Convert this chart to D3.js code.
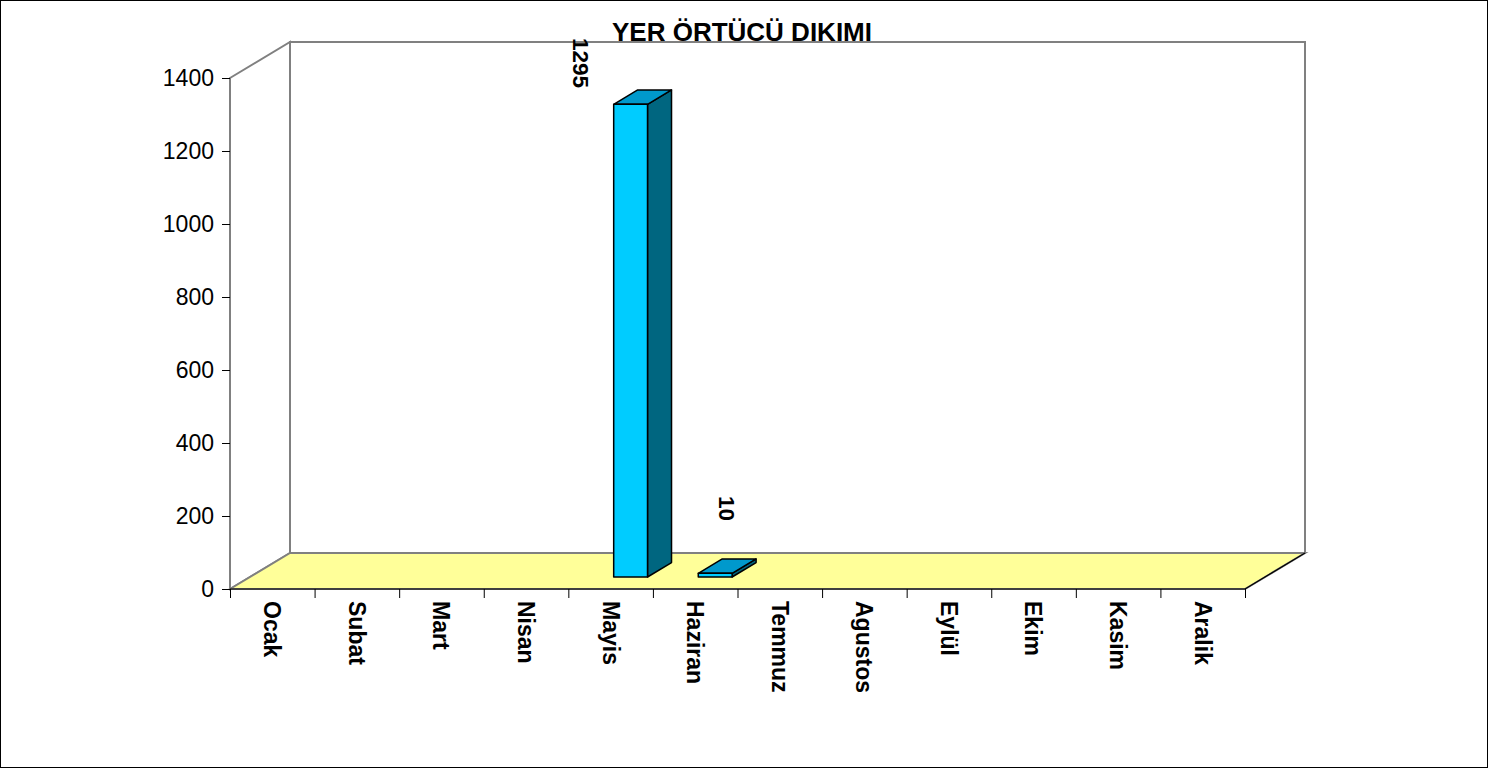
<!DOCTYPE html>
<html lang="tr">
<head>
<meta charset="utf-8">
<title>YER ÖRTÜCÜ DIKIMI</title>
<script src="https://d3js.org/d3.v7.min.js"></script>
<style>
  body { margin: 0; background: #fff; }
  svg { display: block; font-family: Arial, "Liberation Sans", sans-serif; }
</style>
</head>
<body>
<script>
// chart data
var months = ["Ocak", "Subat", "Mart", "Nisan", "Mayis", "Haziran", "Temmuz",
              "Agustos", "Eylül", "Ekim", "Kasim", "Aralik"];
var values = [0, 0, 0, 0, 1295, 10, 0, 0, 0, 0, 0, 0];
var yTicks = [0, 200, 400, 600, 800, 1000, 1200, 1400];
var title = "YER ÖRTÜCÜ DIKIMI";

var w = 1488, h = 768;
var pLeft = 230, pRight = 1245, pBottom = 589, pTop = 78;
// 3d depth of the floor / walls
var DX = 60, DY = -36;
// bars sit between these fractions of the depth
var f0 = 0.333, f1 = 0.733;
var gray = "#808080";

var svg = d3.select("body").append("svg").attr("width", w).attr("height", h);

svg.append("rect").attr("x", 0.5).attr("y", 0.5)
  .attr("width", w - 1).attr("height", h - 1)
  .attr("fill", "#fff").attr("stroke", "#000");

var xScale = d3.scaleBand().domain(months).range([pLeft, pRight])
  .paddingInner(0.6).paddingOuter(0.3);
var xEdge = d3.scaleLinear().domain([0, months.length]).range([pLeft, pRight]);
var yScale = d3.scaleLinear().domain([0, 1400]).range([pBottom, pTop]);

// walls
svg.append("rect")
  .attr("x", pLeft + DX).attr("y", pTop + DY)
  .attr("width", pRight - pLeft).attr("height", pBottom - pTop)
  .attr("fill", "#fff").attr("stroke", gray).attr("stroke-width", 2);

svg.append("polygon")
  .attr("points", [[pLeft, pTop], [pLeft + DX, pTop + DY], [pLeft + DX, pBottom + DY], [pLeft, pBottom]].join(" "))
  .attr("fill", "#fff").attr("stroke", gray).attr("stroke-width", 2);

// floor
svg.append("polygon")
  .attr("points", [[pLeft, pBottom], [pLeft + DX, pBottom + DY], [pRight + DX, pBottom + DY], [pRight, pBottom]].join(" "))
  .attr("fill", "#ffff99").attr("stroke", gray).attr("stroke-width", 2);
svg.append("line")
  .attr("x1", pRight).attr("y1", pBottom).attr("x2", pRight + DX).attr("y2", pBottom + DY)
  .attr("stroke", "#000").attr("stroke-width", 1.2);

// bars
var bars = svg.append("g").selectAll("g").data(months).enter().append("g")
  .filter(function(d, i) { return values[i] > 0; });

function barPts(d) {
  var v = values[months.indexOf(d)];
  var x0 = xScale(d) + DX * f0, bw = xScale.bandwidth();
  var yb = yScale(0) + DY * f0, yt = yScale(v) + DY * f0;
  var ddx = DX * (f1 - f0), ddy = DY * (f1 - f0);
  return { x0: x0, x1: x0 + bw, yb: yb, yt: yt, ddx: ddx, ddy: ddy };
}

bars.append("polygon") // side
  .attr("points", function(d) {
    var p = barPts(d);
    return [[p.x1, p.yb], [p.x1 + p.ddx, p.yb + p.ddy], [p.x1 + p.ddx, p.yt + p.ddy], [p.x1, p.yt]].join(" ");
  })
  .attr("fill", "#006680").attr("stroke", "#000").attr("stroke-width", 1.5).attr("stroke-linejoin", "round");

bars.append("polygon") // top
  .attr("points", function(d) {
    var p = barPts(d);
    return [[p.x0, p.yt], [p.x0 + p.ddx, p.yt + p.ddy], [p.x1 + p.ddx, p.yt + p.ddy], [p.x1, p.yt]].join(" ");
  })
  .attr("fill", "#0099cc").attr("stroke", "#000").attr("stroke-width", 1.5).attr("stroke-linejoin", "round");

bars.append("polygon") // front
  .attr("points", function(d) {
    var p = barPts(d);
    return [[p.x0, p.yb], [p.x0, p.yt], [p.x1, p.yt], [p.x1, p.yb]].join(" ");
  })
  .attr("fill", "#00ccff").attr("stroke", "#000").attr("stroke-width", 1.5).attr("stroke-linejoin", "round");

// value labels (rotated)
bars.append("text")
  .attr("transform", function(d) {
    var p = barPts(d);
    var cx = (p.x0 + p.x1) / 2 + p.ddx / 2;
    var yEnd = p.yt + p.ddy - 38;
    if (yEnd - 50 < 36) {           // no room above: put it beside the bar
      cx = p.x0 - 33;
      yEnd = 88;
    }
    return "translate(" + cx + "," + yEnd + ") rotate(90)";
  })
  .attr("text-anchor", "end").attr("dy", "0.35em")
  .attr("font-size", 22.5).attr("font-weight", "bold")
  .text(function(d) { return values[months.indexOf(d)]; });

// y axis
var yAxis = d3.axisLeft(yScale).tickValues(yTicks).tickSize(8).tickPadding(8).tickFormat(d3.format("d"));
var gy = svg.append("g").attr("transform", "translate(" + pLeft + ",0)").call(yAxis);
gy.select(".domain").remove();
gy.selectAll("text").attr("font-size", 23).attr("font-family", "Arial, 'Liberation Sans', sans-serif").attr("fill", "#000");
gy.selectAll("line").attr("stroke", "#000");

// x axis: line and boundary ticks
var xAxis = d3.axisBottom(xEdge).tickValues(d3.range(months.length + 1)).tickSize(9).tickFormat("");
var gx = svg.append("g").attr("transform", "translate(0," + pBottom + ")").call(xAxis);
gx.select(".domain").attr("d", "M" + pLeft + ",0H" + pRight).attr("stroke", "#000").attr("stroke-width", 1.2);
gx.selectAll("line").attr("stroke", "#000");

svg.append("g").selectAll("text").data(months).enter().append("text")
  .attr("transform", function(d) {
    return "translate(" + (xScale(d) + xScale.bandwidth() / 2) + "," + 601 + ") rotate(90)";
  })
  .attr("dy", "0.35em")
  .attr("font-size", 23).attr("font-weight", "bold")
  .text(function(d) { return d; });

// title
svg.append("text")
  .attr("x", 742).attr("y", 41)
  .attr("text-anchor", "middle")
  .attr("font-size", 26).attr("font-weight", "bold")
  .text(title);
</script>
</body>
</html>
